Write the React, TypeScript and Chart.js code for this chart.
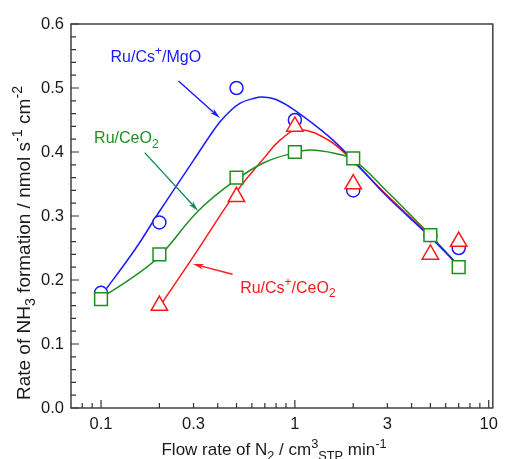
import React, { useEffect, useRef } from 'react';
import { Chart, registerables } from 'chart.js';

Chart.register(...registerables);

const FONT = '"Liberation Sans", Arial, Helvetica, sans-serif';

// ---- measured data points ----
const flowRates = [0.1, 0.2, 0.5, 1, 2, 5, 7];
const mgoRates = [0.18, 0.29, 0.5, 0.45, 0.34, 0.27, 0.25];
const ceRates = [0.17, 0.24, 0.36, 0.4, 0.39, 0.27, 0.22];
const csCeFlow = [0.2, 0.5, 1, 2, 5, 7];
const csCeRates = [0.16, 0.33, 0.44, 0.35, 0.24, 0.26];

// ---- fitted curves ----
const mgoFitX = [0.1, 0.15, 0.2, 0.3, 0.36, 0.41, 0.46, 0.52, 0.6, 0.68, 0.8, 1, 1.5, 2, 3, 5, 7];
const mgoFitY = [0.175, 0.248, 0.307, 0.387, 0.423, 0.447, 0.463, 0.476, 0.483, 0.486, 0.482, 0.465, 0.424, 0.387, 0.33, 0.267, 0.222];
const csCeFitX = [0.2, 0.3, 0.5, 0.7, 0.85, 1.05, 1.5, 2, 3, 5, 7];
const csCeFitY = [0.158, 0.237, 0.338, 0.392, 0.42, 0.435, 0.418, 0.385, 0.332, 0.268, 0.222];
const ceFitX = [0.1, 0.15, 0.2, 0.32, 0.5, 0.7, 1, 1.2, 1.6, 2, 3, 4, 5, 7];
const ceFitY = [0.172, 0.207, 0.237, 0.309, 0.357, 0.384, 0.399, 0.403, 0.398, 0.388, 0.338, 0.3, 0.27, 0.222];

// ---- axes ----
const xTickLabels = [0.1, 0.3, 1, 3, 10];
const xLongTicks = [0.1, 1, 10];
const xShortTicks = [0.08, 0.09, 0.2, 0.3, 0.4, 0.5, 0.6, 0.7, 0.8, 0.9, 2, 3, 4, 5, 6, 7, 8, 9];
const yTickLabels = [0, 0.1, 0.2, 0.3, 0.4, 0.5, 0.6];
const yMinorStep = 0.02;

// ---- annotations (data coordinates) ----
const mgoArrow = [[0.251, 0.511], [0.411, 0.453]];
const ceArrow = [[0.168, 0.399], [0.317, 0.308]];
const csCeArrow = [[0.477, 0.209], [0.298, 0.225]];
const mgoLabelPos = [0.112, 0.541];
const ceLabelPos = [0.0921, 0.4136];
const csCeLabelPos = [0.522, 0.18];

const BLUE = '#1a1aff';
const RED = '#ff1a1a';
const GREEN = '#1f8f1f';
const GREEN_ARROW = '#178a5a';
const AXIS = '#333333';

type Seg = { t: string; k?: 'sub' | 'sup' };

const mgoLabel: Seg[] = [{ t: 'Ru/Cs' }, { t: '+', k: 'sup' }, { t: '/MgO' }];
const ceLabel: Seg[] = [{ t: 'Ru/CeO' }, { t: '2', k: 'sub' }];
const csCeLabel: Seg[] = [{ t: 'Ru/Cs' }, { t: '+', k: 'sup' }, { t: '/CeO' }, { t: '2', k: 'sub' }];
const xTitle: Seg[] = [
  { t: 'Flow rate of N' }, { t: '2', k: 'sub' }, { t: ' / cm' }, { t: '3', k: 'sup' },
  { t: 'STP', k: 'sub' }, { t: ' min' }, { t: '-1', k: 'sup' },
];
const yTitle: Seg[] = [
  { t: 'Rate of NH' }, { t: '3', k: 'sub' }, { t: ' formation / nmol s' }, { t: '-1', k: 'sup' },
  { t: ' cm' }, { t: '-2', k: 'sup' },
];

function drawRich(ctx: CanvasRenderingContext2D, segs: Seg[], x: number, y: number, size: number, color: string, align: 'left' | 'center') {
  ctx.save();
  ctx.fillStyle = color;
  ctx.textBaseline = 'alphabetic';
  ctx.textAlign = 'left';
  const small = size * 0.75;
  let total = 0;
  const ws = segs.map((s) => {
    ctx.font = `${s.k ? small : size}px ${FONT}`;
    const w = ctx.measureText(s.t).width;
    total += w;
    return w;
  });
  let cx = align === 'center' ? x - total / 2 : x;
  segs.forEach((s, i) => {
    ctx.font = `${s.k ? small : size}px ${FONT}`;
    const dy = s.k === 'sub' ? size * 0.28 : s.k === 'sup' ? -size * 0.42 : 0;
    ctx.fillText(s.t, cx, y + dy);
    cx += ws[i];
  });
  ctx.restore();
}

function drawArrow(ctx: CanvasRenderingContext2D, x0: number, y0: number, x1: number, y1: number, color: string) {
  const ang = Math.atan2(y1 - y0, x1 - x0);
  const len = 11;
  const hw = 2.8;
  ctx.save();
  ctx.strokeStyle = color;
  ctx.fillStyle = color;
  ctx.lineWidth = 1.4;
  ctx.beginPath();
  ctx.moveTo(x0, y0);
  ctx.lineTo(x1 - Math.cos(ang) * len * 0.6, y1 - Math.sin(ang) * len * 0.6);
  ctx.stroke();
  ctx.beginPath();
  ctx.moveTo(x1, y1);
  ctx.lineTo(x1 - Math.cos(ang) * len - Math.sin(ang) * hw, y1 - Math.sin(ang) * len + Math.cos(ang) * hw);
  ctx.lineTo(x1 - Math.cos(ang) * len * 0.7, y1 - Math.sin(ang) * len * 0.7);
  ctx.lineTo(x1 - Math.cos(ang) * len + Math.sin(ang) * hw, y1 - Math.sin(ang) * len - Math.cos(ang) * hw);
  ctx.closePath();
  ctx.fill();
  ctx.restore();
}

const decorPlugin = {
  id: 'decor',
  afterDraw(chart: any) {
    const ctx: CanvasRenderingContext2D = chart.ctx;
    const { left, right, top, bottom } = chart.chartArea;
    const xs = chart.scales.x;
    const ys = chart.scales.y;
    const px = (v: number) => xs.getPixelForValue(v);
    const py = (v: number) => ys.getPixelForValue(v);

    // frame
    ctx.save();
    ctx.strokeStyle = AXIS;
    ctx.lineWidth = 1.4;
    ctx.strokeRect(left, top, right - left, bottom - top);

    // ticks (inward)
    ctx.lineWidth = 1.2;
    ctx.beginPath();
    xLongTicks.forEach((v) => { const x = px(v); ctx.moveTo(x, bottom); ctx.lineTo(x, bottom - 8); });
    xShortTicks.forEach((v) => { const x = px(v); ctx.moveTo(x, bottom); ctx.lineTo(x, bottom - 5); });
    yTickLabels.forEach((v) => { const y = py(v); ctx.moveTo(left, y); ctx.lineTo(left + 8, y); });
    for (let v = 0; v < 0.6; v += yMinorStep) {
      const y = py(v);
      ctx.moveTo(left, y); ctx.lineTo(left + 5, y);
    }
    ctx.stroke();
    ctx.restore();

    // arrows
    drawArrow(ctx, px(mgoArrow[0][0]), py(mgoArrow[0][1]), px(mgoArrow[1][0]), py(mgoArrow[1][1]), BLUE);
    drawArrow(ctx, px(ceArrow[0][0]), py(ceArrow[0][1]), px(ceArrow[1][0]), py(ceArrow[1][1]), GREEN_ARROW);
    drawArrow(ctx, px(csCeArrow[0][0]), py(csCeArrow[0][1]), px(csCeArrow[1][0]), py(csCeArrow[1][1]), RED);

    // labels
    drawRich(ctx, mgoLabel, px(mgoLabelPos[0]), py(mgoLabelPos[1]), 16, BLUE, 'left');
    drawRich(ctx, ceLabel, px(ceLabelPos[0]), py(ceLabelPos[1]), 16, GREEN, 'left');
    drawRich(ctx, csCeLabel, px(csCeLabelPos[0]), py(csCeLabelPos[1]), 16, RED, 'left');

    // axis titles
    drawRich(ctx, xTitle, 274, 455, 17, '#1a1a1a', 'center');
    ctx.save();
    ctx.translate(30, 243);
    ctx.rotate(-Math.PI / 2);
    drawRich(ctx, yTitle, 0, 0, 19, '#1a1a1a', 'center');
    ctx.restore();
  },
};

const pts = (xs: number[], ys: number[]) => xs.map((x, i) => ({ x, y: ys[i] }));

export default function App() {
  const ref = useRef<HTMLCanvasElement>(null);
  useEffect(() => {
    document.body.style.margin = '0';
    const canvas = ref.current!;
    const curve = (data: any, color: string) => ({
      type: 'line', data, borderColor: color, borderWidth: 1.5, pointRadius: 0,
      tension: 0.4, fill: false, order: 5,
    });
    const marks = (data: any, color: string, style: string, r: number, order: number) => ({
      type: 'line', data, showLine: false, pointStyle: style, pointRadius: r,
      pointBorderColor: color, pointBackgroundColor: '#ffffff', pointBorderWidth: 1.5,
      borderColor: color, backgroundColor: '#ffffff', order,
    });
    const chart = new Chart(canvas, {
      type: 'line',
      data: {
        datasets: [
          curve(pts(mgoFitX, mgoFitY), BLUE),
          curve(pts(ceFitX, ceFitY), GREEN),
          curve(pts(csCeFitX, csCeFitY), RED),
          marks(pts(flowRates, mgoRates), BLUE, 'circle', 6.5, 2),
          marks(pts(csCeFlow, csCeRates), RED, 'triangle', 9.5, 1),
          marks(pts(flowRates, ceRates), GREEN, 'rect', 9, 0),
        ] as any,
      },
      options: {
        responsive: false,
        animation: false,
        events: [],
        layout: { padding: { left: 0, right: 9, top: 24, bottom: 0 } },
        plugins: { legend: { display: false }, tooltip: { enabled: false } },
        scales: {
          x: {
            type: 'logarithmic',
            min: 0.07,
            max: 10.5,
            grid: { display: false, drawTicks: false },
            border: { display: false },
            ticks: {
              autoSkip: false, maxRotation: 0, minRotation: 0, padding: 7,
              color: '#1a1a1a', font: { family: FONT, size: 16.5 },
              callback: (v: any) => String(v),
            },
            afterBuildTicks: (s: any) => { s.ticks = xTickLabels.map((v) => ({ value: v })); },
            afterFit: (s: any) => { s.height = 51; },
          },
          y: {
            type: 'linear',
            min: 0,
            max: 0.6,
            grid: { display: false, drawTicks: false },
            border: { display: false },
            ticks: {
              padding: 7, color: '#1a1a1a', font: { family: FONT, size: 16.5 },
              callback: (v: any) => Number(v).toFixed(1),
            },
            afterBuildTicks: (s: any) => { s.ticks = yTickLabels.map((v) => ({ value: v })); },
            afterFit: (s: any) => { s.width = 71; },
          },
        },
      } as any,
      plugins: [decorPlugin],
    });
    return () => chart.destroy();
  }, []);
  return (
    <div style={{ position: 'absolute', left: 0, top: 0, width: 505, height: 459, background: '#fff' }}>
      <canvas ref={ref} width={505} height={459} style={{ display: 'block' }} />
    </div>
  );
}
